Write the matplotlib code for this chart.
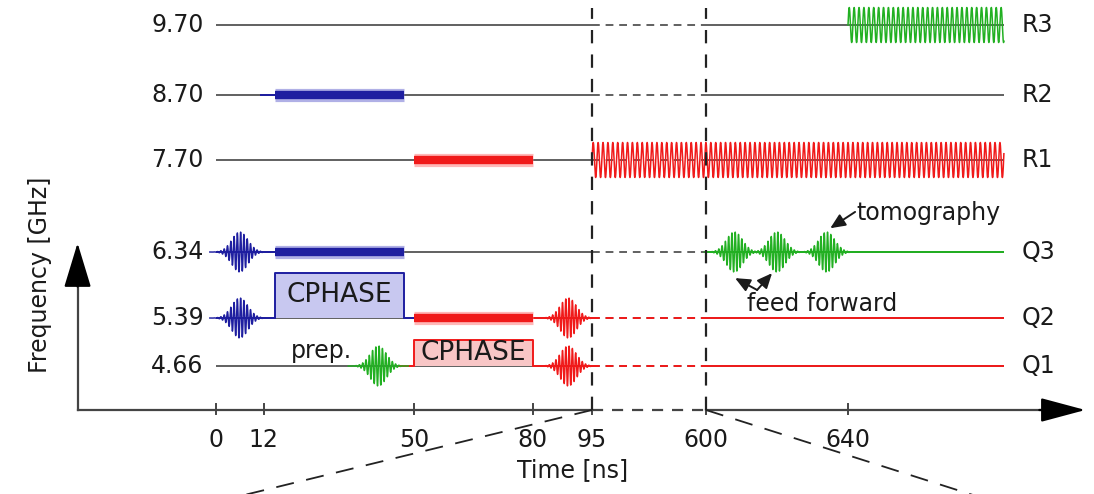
import numpy as np
import matplotlib
matplotlib.use("Agg")
import matplotlib.pyplot as plt

plt.rcParams['font.family'] = ['DejaVu Sans']

# ---- data ----
rows = ['R3', 'R2', 'R1', 'Q3', 'Q2', 'Q1']
freqs = [9.70, 8.70, 7.70, 6.34, 5.39, 4.66]
freq_labels = ['9.70', '8.70', '7.70', '6.34', '5.39', '4.66']
tick_times = [0, 12, 50, 80, 95, 600, 640]
tick_labels = ['0', '12', '50', '80', '95', '600', '640']
t_start, t_end = 0, 684
t_gap = (95, 600)

# gaussian pulses
pulse_row = ['Q3', 'Q2', 'Q1', 'Q2', 'Q1', 'Q3', 'Q3', 'Q3']
pulse_t = [6, 6, 41, 89, 89, 608, 620, 634]
pulse_col = ['b', 'b', 'g', 'r', 'r', 'g', 'g', 'g']

# flat-top drive tones (thick bars)
bar_row = ['R2', 'Q3', 'R1', 'Q2']
bar_t0 = [15, 15, 50, 50]
bar_t1 = [47.5, 47.5, 80, 80]
bar_col = ['b', 'b', 'r', 'r']

# CPHASE flux pulses, top level in GHz
cz_row = ['Q2', 'Q1']
cz_t0 = [15, 50]
cz_t1 = [47.5, 80]
cz_top = [6.04, 5.06]
cz_col = ['b', 'r']

# continuous readout tones
ro_row = ['R1', 'R3']
ro_t0 = [95, 640]
ro_col = ['r', 'g']

# coloured pieces of the wires
wire_row = ['R2', 'Q3', 'Q3', 'Q2', 'Q2', 'Q2', 'Q1', 'Q1']
wire_t0 = [11, 0, 600, 0, 47.5, 80, 46, 80]
wire_t1 = [15, 15, 684, 15, 50, 684, 50, 684]
wire_col = ['b', 'b', 'g', 'b', 'b', 'r', 'r', 'r']

COL = {'b': '#1e1ea0', 'r': '#f01a1a', 'g': '#22b022', 'k': '#606060'}
GLOW = {'b': '#7c7cd6', 'r': '#ff8a8a'}
LIGHT = {'b': '#c8c8f0', 'r': '#f8c6c6'}
TXT = '#1a1a1a'

# ---- broken / schematic scales (time -> px, freq -> px from bottom) ----
T_ANCH = [-54.6, 95, 600, 640, 710]
X_ANCH = [0, 592, 706, 848, 1096]
F_ANCH = [2.71, 4.66, 5.39, 6.34, 7.70, 8.70, 9.70, 10.06]
Y_ANCH = [0, 128, 176, 242, 334, 399, 469, 494]


def fx(t):
    return np.interp(t, T_ANCH, X_ANCH)


def fx_inv(x):
    return np.interp(x, X_ANCH, T_ANCH)


def fy(f):
    return np.interp(f, F_ANCH, Y_ANCH)


def fy_inv(y):
    return np.interp(y, Y_ANCH, F_ANCH)


fig = plt.figure(figsize=(10.94, 4.94), dpi=100)
ax = fig.add_axes([0, 0, 1, 1])
ax.set_xscale('function', functions=(fx, fx_inv))
ax.set_yscale('function', functions=(fy, fy_inv))
ax.set_xlim(fx_inv(0), fx_inv(1094))
ax.set_ylim(fy_inv(0), fy_inv(494))
ax.set_axis_off()

level = dict(zip(rows, freqs))


def wire(t0, t1, f, color, lw=1.4, z=2):
    parts = [(t0, min(t1, t_gap[0]), '-'),
             (max(t0, t_gap[0]), min(t1, t_gap[1]), (0, (4, 3))),
             (max(t0, t_gap[1]), t1, '-')]
    for a, b, ls in parts:
        if b > a:
            ax.plot([a, b], [f, f], color=color, lw=lw, ls=ls, zorder=z,
                    solid_capstyle='butt')


def pulse(t0, f, color):
    dx = np.linspace(-30, 30, 1200)
    dy = 20 * np.exp(-(dx / 11.5) ** 2) * np.sin(2 * np.pi * dx / 3.3)
    ax.plot(fx_inv(fx(t0) + dx), fy_inv(fy(f) + dy), color=color, lw=1.05,
            zorder=4)


def tone(t0, t1, f, color):
    x = np.linspace(fx(t0), fx(t1), 5000)
    dy = 17.5 * np.sin(2 * np.pi * (x - x[0]) / 4.9)
    ax.plot(fx_inv(x), fy_inv(fy(f) + dy), color=color, lw=1.1, zorder=4)


# grey wires
for r in rows:
    wire(t_start, t_end, level[r], COL['k'], z=1)
# coloured wires
for r, a, b, c in zip(wire_row, wire_t0, wire_t1, wire_col):
    wire(a, b, level[r], COL[c])

# thick flat-top tones
for r, a, b, c in zip(bar_row, bar_t0, bar_t1, bar_col):
    ax.plot([a, b], [level[r]] * 2, color=GLOW[c], lw=9.5, alpha=0.6,
            solid_capstyle='butt', zorder=3)
    ax.plot([a, b], [level[r]] * 2, color=COL[c], lw=6,
            solid_capstyle='butt', zorder=3)

# CPHASE boxes
for r, a, b, top, c in zip(cz_row, cz_t0, cz_t1, cz_top, cz_col):
    f = level[r]
    ax.fill_between([a, b], f, top, color=LIGHT[c], lw=0, zorder=2)
    ax.plot([a, a, b, b], [f, top, top, f], color=COL[c], lw=1.4, zorder=3)
    ax.text((a + b) / 2, fy_inv((fy(f) + fy(top)) / 2), 'CPHASE',
            ha='center', va='center', fontsize=19, color=TXT, zorder=5)

for r, t, c in zip(pulse_row, pulse_t, pulse_col):
    pulse(t, level[r], COL[c])

for r, a, c in zip(ro_row, ro_t0, ro_col):
    tone(a, t_end, level[r], COL[c])

# ---- axes, ticks, break markers ----
xt = ax.get_xaxis_transform()
yt = ax.get_yaxis_transform()
ya = 84 / 494
ax.plot([-35, 95], [ya, ya], transform=xt, color='#444444', lw=1.6)
ax.plot([95, 600], [ya, ya], transform=xt, color='#444444', lw=1.6,
        ls=(0, (5, 4)))
ax.plot([600, 696], [ya, ya], transform=xt, color='#444444', lw=1.6)
ax.annotate('', xy=(707, ya), xytext=(694, ya), xycoords=xt,
            arrowprops=dict(arrowstyle='-|>,head_length=2.8,head_width=0.75',
                            mutation_scale=10, color='black', lw=1.6,
                            shrinkA=0, shrinkB=0))
ax.plot([-35, -35], [ya, 0.44], transform=xt, color='#444444', lw=1.6)
ax.annotate('', xy=(-35, 0.508), xytext=(-35, 0.42), xycoords=xt,
            arrowprops=dict(arrowstyle='-|>,head_length=2.8,head_width=0.85',
                            mutation_scale=10, color='black', lw=1.6,
                            shrinkA=0, shrinkB=0))

for t, lab in zip(tick_times, tick_labels):
    ax.plot([t, t], [ya - 0.008, ya + 0.012], transform=xt,
            color='#444444', lw=1.4)
    ax.text(t, 0.109, lab, transform=xt, ha='center', va='center',
            fontsize=17, color=TXT)

for t in t_gap:
    ax.plot([t, t], [ya, 0.984], transform=xt, color='#222222', lw=1.6,
            ls=(0, (6, 5)), zorder=6)
ax.plot([95, 0], [ya, -0.016], transform=xt, color='#222222', lw=1.3,
        ls=(0, (10, 7)), clip_on=False)
ax.plot([600, 684], [ya, -0.022], transform=xt, color='#222222', lw=1.3,
        ls=(0, (10, 7)), clip_on=False)

# ---- labels ----
for f, lab, r in zip(freqs, freq_labels, rows):
    ax.text(0.186, f, lab, transform=yt, ha='right', va='center',
            fontsize=17, color=TXT)
    ax.text(0.934, f, r, transform=yt, ha='left', va='center',
            fontsize=17, color=TXT)

ax.text(0.0366, 0.443, 'Frequency [GHz]', transform=ax.transAxes,
        rotation=90, ha='center', va='center', fontsize=17, color=TXT)
ax.text(0.523, 0.0486, 'Time [ns]', transform=ax.transAxes,
        ha='center', va='center', fontsize=17, color=TXT)
ax.text(19, 0.290, 'prep.', transform=xt, ha='left', va='center',
        fontsize=17, color=TXT)

# annotations
arrow = dict(arrowstyle='-|>,head_length=0.9,head_width=0.4',
             mutation_scale=10, color='#1a1a1a', lw=1.4, shrinkA=0, shrinkB=0)
ax.text(642.5, 0.569, 'tomography', transform=xt, ha='left', va='center',
        fontsize=17, color=TXT)
ax.annotate('', xy=(635, 0.538), xytext=(642, 0.571), xycoords=xt,
            arrowprops=arrow)
ax.text(611.5, 0.385, 'feed forward', transform=xt, ha='left', va='center',
        fontsize=17, color=TXT)
ax.annotate('', xy=(608.2, 0.437), xytext=(614.4, 0.413), xycoords=xt,
            arrowprops=arrow)
ax.annotate('', xy=(618.6, 0.447), xytext=(614.4, 0.413), xycoords=xt,
            arrowprops=arrow)

fig.savefig('out.png', dpi=100)
